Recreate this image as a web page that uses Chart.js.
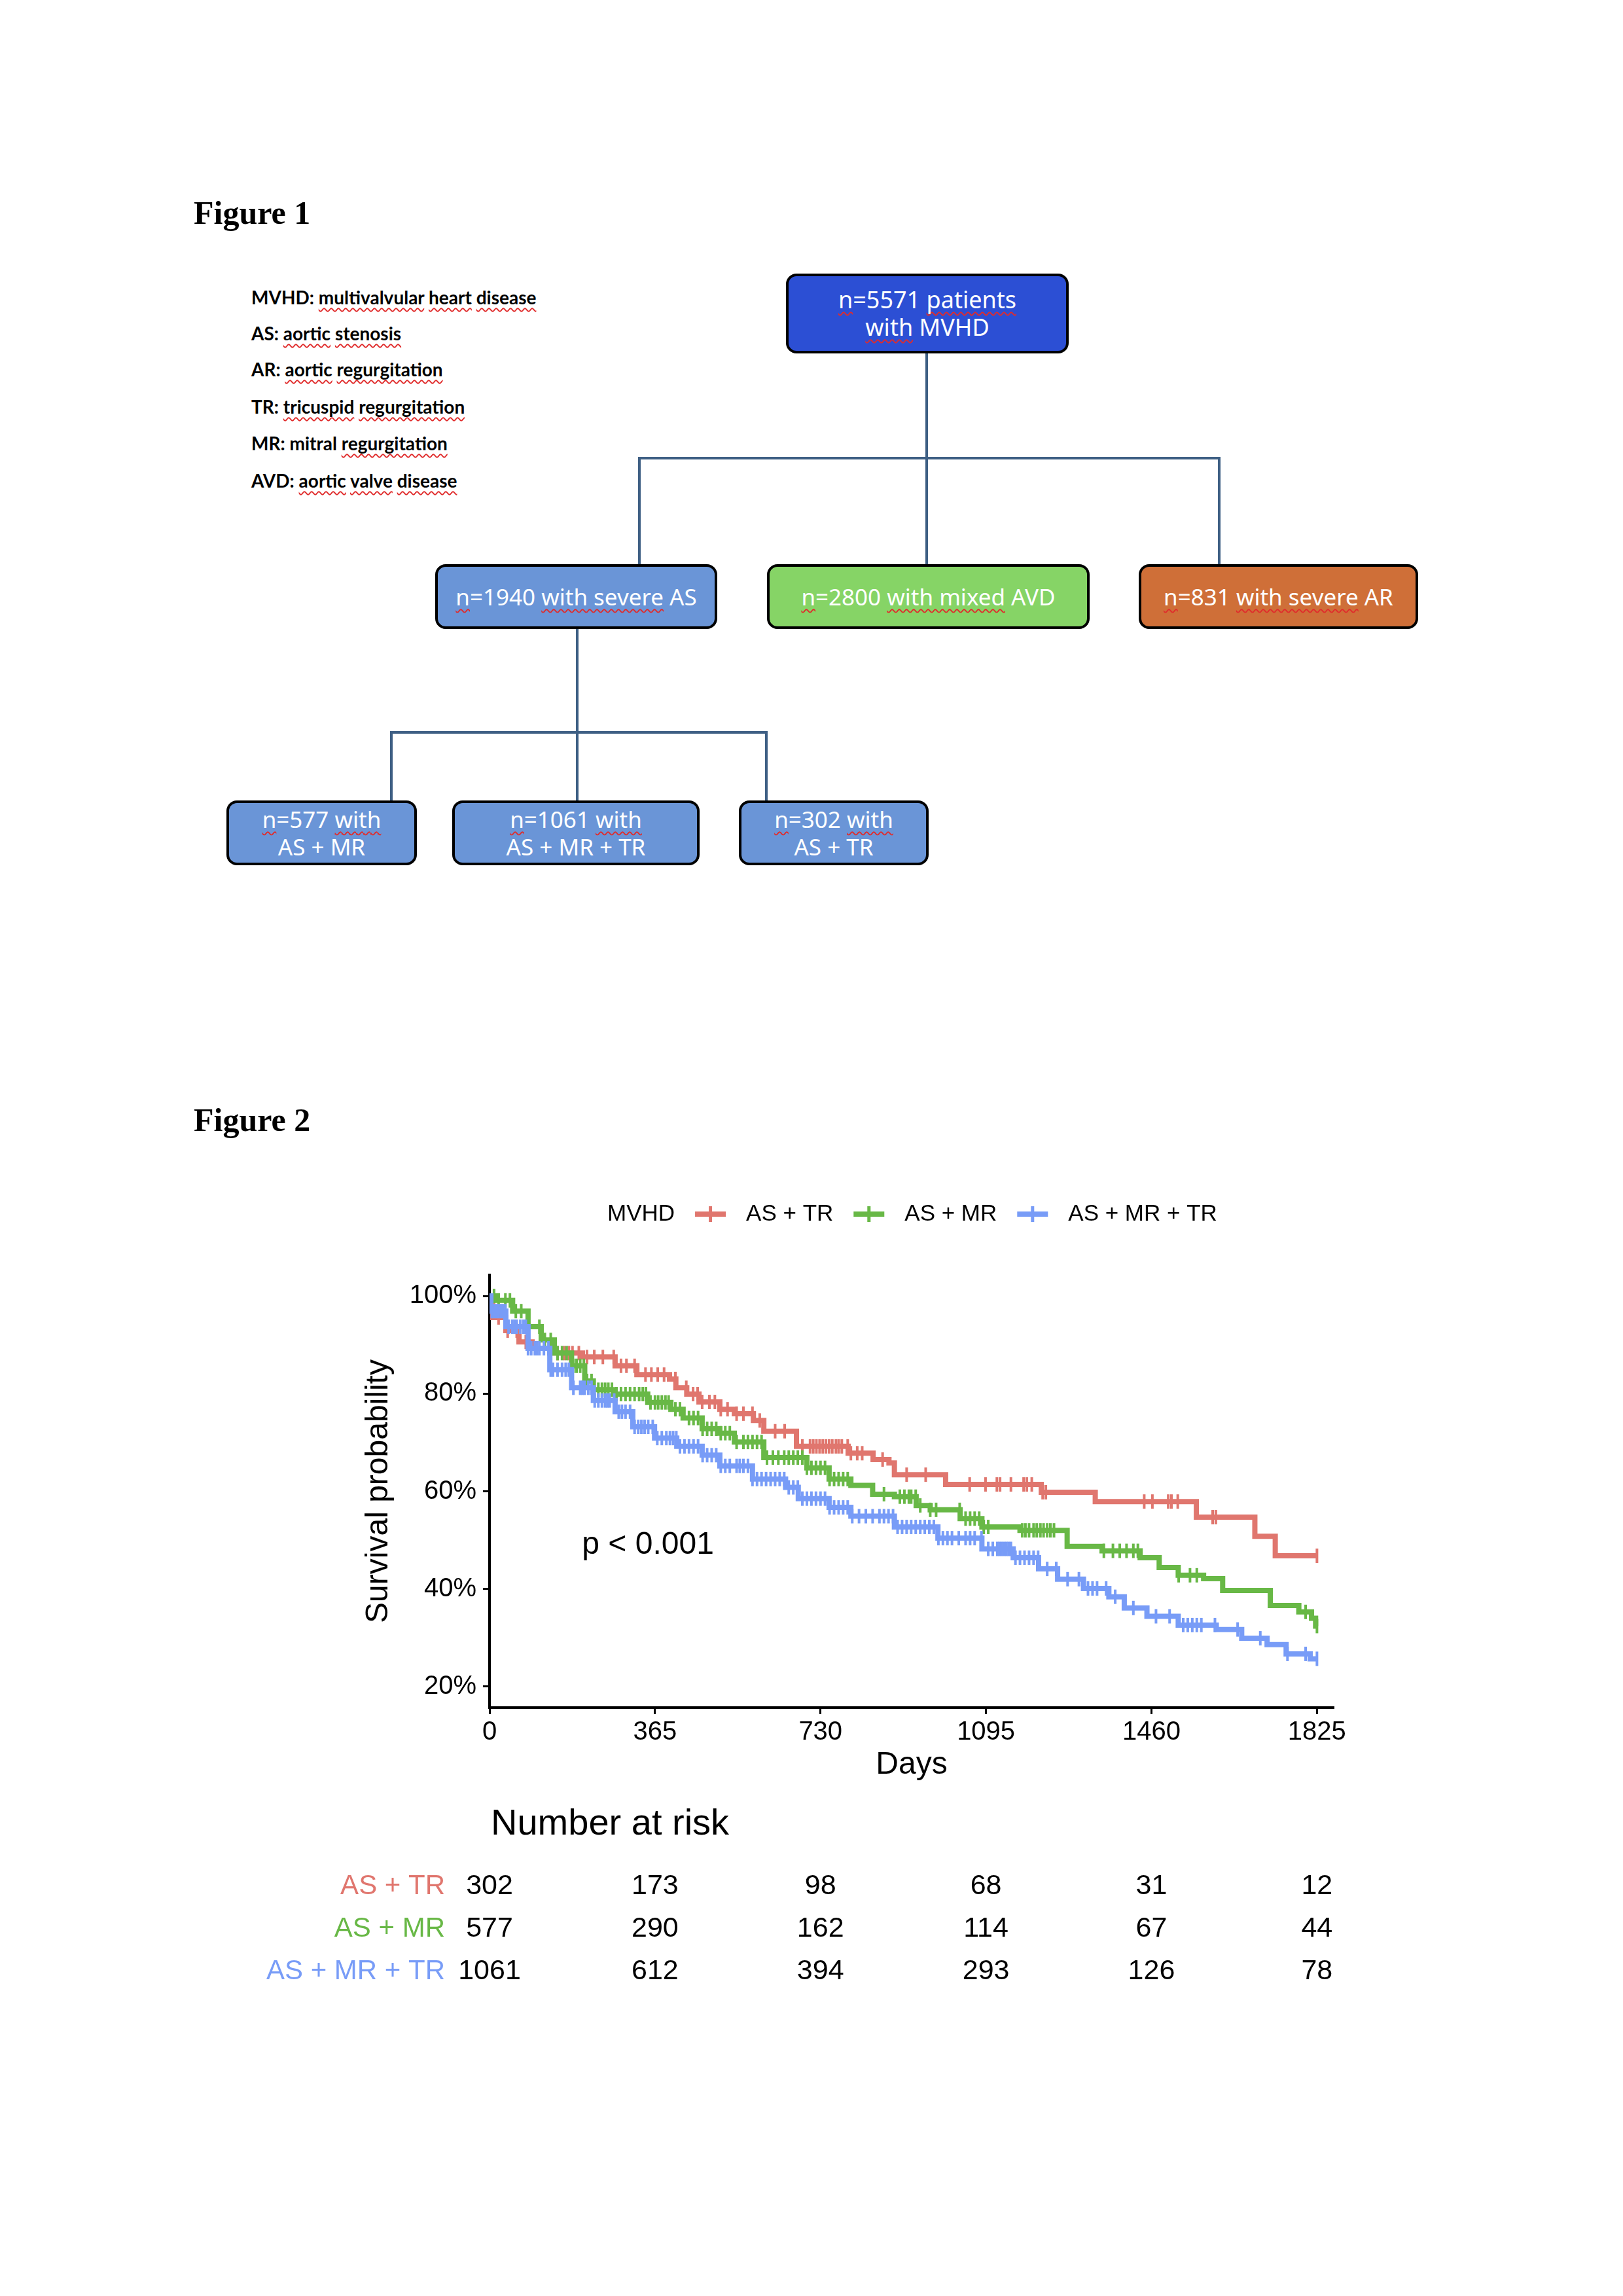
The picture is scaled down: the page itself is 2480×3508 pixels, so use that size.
<!DOCTYPE html>
<html>
<head>
<meta charset="utf-8">
<script src="https://cdn.jsdelivr.net/npm/chart.js@4.4.1/dist/chart.umd.min.js"></script>
<style>
html, body { margin: 0; padding: 0; background: #fff; }
#page { position: relative; width: 2480px; height: 3508px; overflow: hidden; background: #fff; }
.fig { position: absolute; left: 296px; font-family: "Liberation Serif", serif; font-weight: bold; font-size: 50px; line-height: 50px; color: #000; }
.abbr { position: absolute; left: 384px; font-family: Lato, "Open Sans", sans-serif; font-weight: bold; font-size: 28px; line-height: 34px; white-space: nowrap; color: #000; }
.sq { text-decoration: underline wavy #e02b2b; text-decoration-thickness: 2px; text-underline-offset: 5px; text-decoration-skip-ink: none; }
.box { position: absolute; box-sizing: border-box; border: 4px solid #000; border-radius: 16px; color: #fff;
  font-family: "Noto Sans", sans-serif; font-size: 35px; line-height: 42px; display: flex; flex-direction: column;
  justify-content: center; align-items: center; text-align: center; white-space: nowrap; }
.ln { position: absolute; background: #3e5f84; }
#km { position: absolute; left: 0; top: 1780px; width: 2480px; height: 1320px; }
</style>
</head>
<body>
<div id="page">

  <!-- FIGURE 1 : flow chart -->
  <div class="fig" style="top:300px">Figure 1</div>

  <div class="abbr" style="top:437px">MVHD: <span class="sq">multivalvular</span> <span class="sq">heart</span> <span class="sq">disease</span></div>
  <div class="abbr" style="top:492px">AS: <span class="sq">aortic</span> <span class="sq">stenosis</span></div>
  <div class="abbr" style="top:547px">AR: <span class="sq">aortic</span> <span class="sq">regurgitation</span></div>
  <div class="abbr" style="top:604px">TR: <span class="sq">tricuspid</span> <span class="sq">regurgitation</span></div>
  <div class="abbr" style="top:660px">MR: mitral <span class="sq">regurgitation</span></div>
  <div class="abbr" style="top:717px">AVD: <span class="sq">aortic</span> <span class="sq">valve</span> <span class="sq">disease</span></div>

  <div class="ln" style="left:1414px;top:540px;width:4px;height:322px"></div>
  <div class="ln" style="left:975px;top:698px;width:890px;height:4px"></div>
  <div class="ln" style="left:975px;top:698px;width:4px;height:164px"></div>
  <div class="ln" style="left:1861px;top:698px;width:4px;height:164px"></div>
  <div class="ln" style="left:880px;top:961px;width:4px;height:262px"></div>
  <div class="ln" style="left:596px;top:1117px;width:577px;height:4px"></div>
  <div class="ln" style="left:596px;top:1117px;width:4px;height:106px"></div>
  <div class="ln" style="left:1169px;top:1117px;width:4px;height:106px"></div>

  <div class="box" style="left:1201px;top:418px;width:432px;height:122px;background:#2c4fd4;font-size:36px">
    <div><span class="sq">n</span>=5571 <span class="sq">patients</span></div>
    <div><span class="sq">with</span> MVHD</div>
  </div>

  <div class="box" style="left:665px;top:862px;width:431px;height:99px;background:#6a95d7">
    <div><span class="sq">n</span>=1940 <span class="sq">with severe</span> AS</div>
  </div>
  <div class="box" style="left:1172px;top:862px;width:493px;height:99px;background:#86d466">
    <div><span class="sq">n</span>=2800 <span class="sq">with mixed</span> AVD</div>
  </div>
  <div class="box" style="left:1740px;top:862px;width:427px;height:99px;background:#cf6f38">
    <div><span class="sq">n</span>=831 <span class="sq">with severe</span> AR</div>
  </div>

  <div class="box" style="left:346px;top:1223px;width:291px;height:99px;background:#6a95d7">
    <div><span class="sq">n</span>=577 <span class="sq">with</span></div>
    <div>AS + MR</div>
  </div>
  <div class="box" style="left:691px;top:1223px;width:378px;height:99px;background:#6a95d7">
    <div><span class="sq">n</span>=1061 <span class="sq">with</span></div>
    <div>AS + MR + TR</div>
  </div>
  <div class="box" style="left:1129px;top:1223px;width:290px;height:99px;background:#6a95d7">
    <div><span class="sq">n</span>=302 <span class="sq">with</span></div>
    <div>AS + TR</div>
  </div>

  <!-- FIGURE 2 : Kaplan-Meier -->
  <div class="fig" style="top:1686px">Figure 2</div>
  <canvas id="km" width="2480" height="1320"></canvas>
</div>

<script>
//DATA
const groups = ['AS + TR', 'AS + MR', 'AS + MR + TR'];

// [day, survival %] after each drop
const stepsTR = [[0,100],[7,95.6],[36,92.9],[65,90.6],[94,89.3],[133,88.3],[205,87.5],[277,85.7],[325,83.9],
  [397,83.0],[411,81.2],[435,79.9],[462,78.3],[508,76.8],[540,75.9],[582,74.5],[605,72.3],[677,69.2],[791,67.8],
  [846,66.5],[881,65.8],[893,63.4],[1006,61.4],[1217,59.8],[1336,57.9],[1559,54.7],[1688,50.8],
  [1733,46.8],[1825,46.8]];
const stepsMR = [[0,100],[17,99.1],[51,96.9],[85,93.7],[114,91.0],[143,88.3],[181,85.7],[210,82.6],[229,80.8],
  [277,79.9],[349,78.2],[400,76.8],[427,75.0],[469,72.8],[508,71.9],[540,70.1],[605,66.9],[700,64.8],[749,62.5],
  [797,61.2],[845,59.4],[893,58.9],[941,57.1],[972,56.2],[1038,54.4],[1086,52.7],
  [1170,52.0],[1274,48.7],[1351,47.8],[1435,46.4],[1477,44.4],[1519,42.8],[1575,42.1],[1617,39.7],[1722,36.6],
  [1785,35.3],[1813,34.0],[1822,32.4],[1825,32.4]];
const stepsMRTR = [[0,100],[3,96.9],[36,93.7],[85,89.3],[133,84.9],[181,81.2],[229,78.6],[277,76.3],[316,73.2],
  [364,70.9],[413,69.2],[469,67.4],[508,65.2],[580,62.5],[653,60.8],[681,58.5],[749,56.7],[797,54.9],[893,52.7],
  [989,50.4],[1086,48.2],[1155,46.4],[1211,44.1],[1253,42.0],
  [1310,40.1],[1366,38.4],[1400,36.1],[1450,34.4],[1519,32.6],[1603,31.7],[1659,29.9],[1715,28.6],[1757,26.7],
  [1810,25.7],[1825,25.7]];

// censoring times (days)
const censorTR = [20,40,60,80,150,165,175,183,197,215,231,250,274,290,302,320,344,357,371,385,410,434,449,459,469,
  485,497,510,525,545,560,580,596,630,651,690,707,714,721,728,735,742,749,756,764,770,777,790,797,811,822,867,920,
  962,1059,1094,1119,1126,1150,1178,1185,1196,1220,1227,1444,1462,1497,1504,1518,1595,1602,1825];
const censorMR = [10,20,35,45,58,70,85,110,122,135,150,160,170,185,192,200,208,215,225,240,248,255,262,270,280,
  290,300,310,320,330,338,345,355,365,372,380,388,395,410,420,440,450,460,470,480,490,500,510,520,530,545,560,
  570,580,590,600,612,625,637,650,660,670,680,690,700,710,720,730,740,750,760,770,780,790,870,905,915,925,930,
  940,950,972,985,1037,1050,1060,1070,1080,1090,1100,1175,1182,1190,1200,1207,1215,1222,1230,1237,1245,1355,1375,
  1390,1405,1420,1430,1520,1545,1560,1800,1825];
const censorMRTR = [5,10,15,20,25,30,35,42,50,55,60,68,75,80,85,92,100,105,110,120,130,135,140,150,160,168,175,
  185,200,205,210,218,225,232,240,248,255,260,265,275,285,292,300,310,320,328,335,342,350,360,370,380,390,398,405,
  412,420,430,440,450,460,470,480,490,500,510,520,530,545,552,560,570,580,590,600,610,620,630,640,650,660,670,680,
  690,700,710,720,730,740,750,760,770,780,790,800,815,830,845,860,870,880,890,900,910,920,930,940,950,960,970,980,
  990,1000,1010,1020,1035,1050,1060,1070,1085,1100,1110,1120,1125,1130,1135,1140,1145,1150,1160,1170,1180,1190,
  1200,1210,1230,1250,1275,1300,1320,1330,1340,1360,1380,1420,1470,1500,1530,1540,1550,1560,1570,1600,1650,1700,
  1760,1800,1825];

const xTicks = [0, 365, 730, 1095, 1460, 1825];
const yTicks = [20, 40, 60, 80, 100];

const riskTR = [302, 173, 98, 68, 31, 12];
const riskMR = [577, 290, 162, 114, 67, 44];
const riskMRTR = [1061, 612, 394, 293, 126, 78];

const pLabel = 'p < 0.001';
const pAt = [204, 49];

//STYLE
const RED = '#e0766e', GREEN = '#68b846', BLUE = '#789cf7';
const FONT = '"Liberation Sans", Arial, sans-serif';
const TOP = 1780; // canvas top on the page

function survAt(steps, d) {
  let s = steps[0][1];
  steps.forEach(([t, v]) => { if (t <= d) s = v; });
  return s;
}

const series = [
  { label: groups[0], steps: stepsTR, cens: censorTR, risk: riskTR, color: RED, order: 3 },
  { label: groups[1], steps: stepsMR, cens: censorMR, risk: riskMR, color: GREEN, order: 2 },
  { label: groups[2], steps: stepsMRTR, cens: censorMRTR, risk: riskMRTR, color: BLUE, order: 1 }
];

const datasets = [];
series.forEach(s => {
  datasets.push({
    type: 'line', label: s.label,
    data: s.steps.map(([x, y]) => ({ x, y })),
    borderColor: s.color, borderWidth: 8, stepped: true,
    pointRadius: 0, fill: false, order: s.order
  });
  datasets.push({
    type: 'scatter', label: s.label + ' censored',
    data: s.cens.map(d => ({ x: d, y: survAt(s.steps, d) })),
    borderColor: s.color, backgroundColor: s.color,
    pointStyle: 'line', pointRotation: 90, pointRadius: 11, pointBorderWidth: 4,
    showLine: false, order: s.order
  });
});

//EXTRAS: legend, p value, risk table
const extras = {
  id: 'kmExtras',
  afterDraw(chart) {
    const c = chart.ctx;
    const xs = chart.scales.x, ys = chart.scales.y;
    c.save();
    c.textBaseline = 'middle';

    // legend
    let lx = 928;
    const ly = 1855 - TOP;
    c.font = '35px ' + FONT;
    c.fillStyle = '#000';
    c.textAlign = 'left';
    c.fillText('MVHD', lx, ly);
    lx += c.measureText('MVHD').width + 31;
    series.forEach(s => {
      c.fillStyle = s.color;
      c.fillRect(lx, ly - 4, 47, 8);
      c.fillRect(lx + 21, ly - 12, 5, 24);
      lx += 47 + 31;
      c.fillStyle = '#000';
      c.fillText(s.label, lx, ly);
      lx += c.measureText(s.label).width + 31;
    });

    // p value
    c.font = '48px ' + FONT;
    c.fillText(pLabel, xs.getPixelForValue(pAt[0]), ys.getPixelForValue(pAt[1]));

    // number at risk
    c.font = '56px ' + FONT;
    c.fillText('Number at risk', xs.getPixelForValue(0) + 2, 2788 - TOP);
    series.forEach((s, i) => {
      const ry = 2882 - TOP + i * 65;
      c.font = '42px ' + FONT;
      c.textAlign = 'right';
      c.fillStyle = s.color;
      c.fillText(s.label, 680, ry);
      c.textAlign = 'center';
      c.fillStyle = '#000';
      c.font = '43px ' + FONT;
      s.risk.forEach((n, j) => c.fillText(String(n), xs.getPixelForValue(xTicks[j]), ry));
    });
    c.restore();
  }
};

//CHART
new Chart(document.getElementById('km'), {
  data: { datasets },
  plugins: [extras],
  options: {
    responsive: false,
    devicePixelRatio: 1,
    animation: false,
    layout: { padding: { left: 550, right: 442, top: 168, bottom: 374 } },
    plugins: { legend: { display: false }, tooltip: { enabled: false } },
    scales: {
      x: {
        type: 'linear', min: 0, max: 1862,
        afterBuildTicks: s => { s.ticks = xTicks.map(v => ({ value: v })); },
        afterFit: s => { s.height = 117; },
        border: { display: true, color: '#000', width: 4 },
        grid: { display: true, drawOnChartArea: false, drawTicks: true, tickLength: 10, tickWidth: 3, tickColor: '#000' },
        ticks: { color: '#000', font: { family: FONT, size: 40 }, padding: 4, maxRotation: 0, autoSkip: false,
          callback: v => String(v) },
        title: { display: true, text: 'Days', color: '#000', font: { family: FONT, size: 48 }, padding: 0 }
      },
      y: {
        type: 'linear', min: 15.7, max: 104.3,
        afterBuildTicks: s => { s.ticks = yTicks.map(v => ({ value: v })); },
        afterFit: s => { s.width = 198; },
        border: { display: true, color: '#000', width: 4 },
        grid: { display: true, drawOnChartArea: false, drawTicks: true, tickLength: 10, tickWidth: 3, tickColor: '#000' },
        ticks: { color: '#000', font: { family: FONT, size: 40 }, padding: 10, callback: v => v + '%' },
        title: { display: true, text: 'Survival probability', color: '#000', font: { family: FONT, size: 48 }, padding: 0 }
      }
    }
  }
});
</script>
</body>
</html>
